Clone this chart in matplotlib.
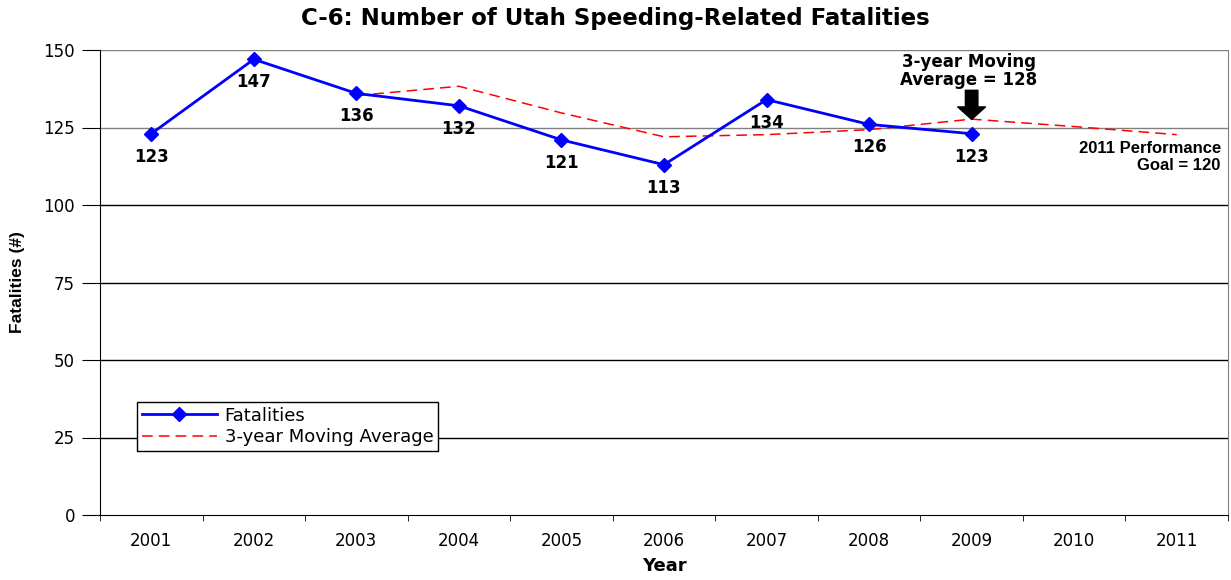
import matplotlib
matplotlib.use("Agg")
import matplotlib.pyplot as plt

years = ["2001", "2002", "2003", "2004", "2005", "2006", "2007", "2008", "2009", "2010", "2011"]
fatalities = [123, 147, 136, 132, 121, 113, 134, 126, 123]
moving_avg_years = ["2003", "2004", "2005", "2006", "2007", "2008", "2009", "2010", "2011"]
moving_avg = [135.3, 138.3, 129.7, 122.0, 122.7, 124.3, 127.7, 125.3, 122.7]
yticks = [0, 25, 50, 75, 100, 125, 150]

plt.rcParams['font.family'] = ['DejaVu Sans']
narrow = ['Liberation Sans', 'DejaVu Sans']

fig = plt.figure(figsize=(12.31, 5.80), dpi=100)
ax = fig.add_axes([100/1231, 65/580, 1128/1231, 465/580])

xf = list(range(len(fatalities)))
xm = [years.index(y) for y in moving_avg_years]

ma_line, = ax.plot(xm, moving_avg, color="red", linestyle=(0, (7, 4)), linewidth=1.1,
                   label="3-year Moving Average", zorder=3)
fat_line, = ax.plot(xf, fatalities, color="#0000ff", linewidth=2, marker="D", markersize=7,
                    label="Fatalities", zorder=4)

for x, v in zip(xf, fatalities):
    ax.annotate(str(v), (x, v), textcoords="offset pixels", xytext=(0, -23),
                ha="center", va="center", fontsize=12, fontweight="bold")

ax.set_xlim(-0.5, len(years) - 0.5)
ax.set_ylim(0, 150)
ax.set_yticks(yticks)
ax.set_xticks(range(len(years)))
ax.set_xticklabels(years, fontsize=12)
ax.set_xticks([i - 0.5 for i in range(len(years) + 1)], minor=True)
ax.tick_params(axis="x", which="major", length=0, pad=12)
ax.tick_params(axis="x", which="minor", length=4.5, direction="out", color="black")
ax.tick_params(axis="y", labelsize=12, length=13, direction="out", pad=5)
for y in yticks[1:]:
    ax.axhline(y, color="#808080" if y in (125, 150) else "black", linewidth=1, zorder=1)

ax.spines["top"].set_visible(False)
ax.spines["right"].set_color("#808080")
ax.spines["left"].set_color("black")
ax.spines["bottom"].set_color("black")

ax.set_xlabel("Year", fontsize=13, fontweight="bold", labelpad=5)
ax.set_ylabel("Fatalities (#)", fontsize=12.5, fontweight="bold", labelpad=13, family=narrow)
fig.text(0.5, 1 - 18/580, "C-6: Number of Utah Speeding-Related Fatalities",
         ha="center", va="center", fontsize=16.5, fontweight="bold")

# arrow and annotations
ax.annotate("", xy=(8, 127.6), xytext=(8, 137.0),
            arrowprops=dict(arrowstyle="simple,head_width=2.0,head_length=0.9,tail_width=0.9",
                            color="black", mutation_scale=10, shrinkA=0, shrinkB=0))
ax.text(7.97, 137.4, "3-year Moving\nAverage = 128", ha="center", va="bottom",
        fontsize=12, fontweight="bold", linespacing=1.0)
ax.text(10.43, 115.5, "2011 Performance\nGoal = 120", ha="right", va="center",
        fontsize=12, fontweight="bold", linespacing=1.1, family=narrow)

leg = ax.legend(handles=[fat_line, ma_line], loc="upper left",
                bbox_to_anchor=(37/1128, 113/465), fontsize=13, frameon=True,
                fancybox=False, edgecolor="black", framealpha=1, borderpad=0.25,
                handlelength=4.2, labelspacing=0.2, borderaxespad=0, handletextpad=0.4)
leg.get_frame().set_linewidth(1)

fig.savefig("out.png", dpi=100)
